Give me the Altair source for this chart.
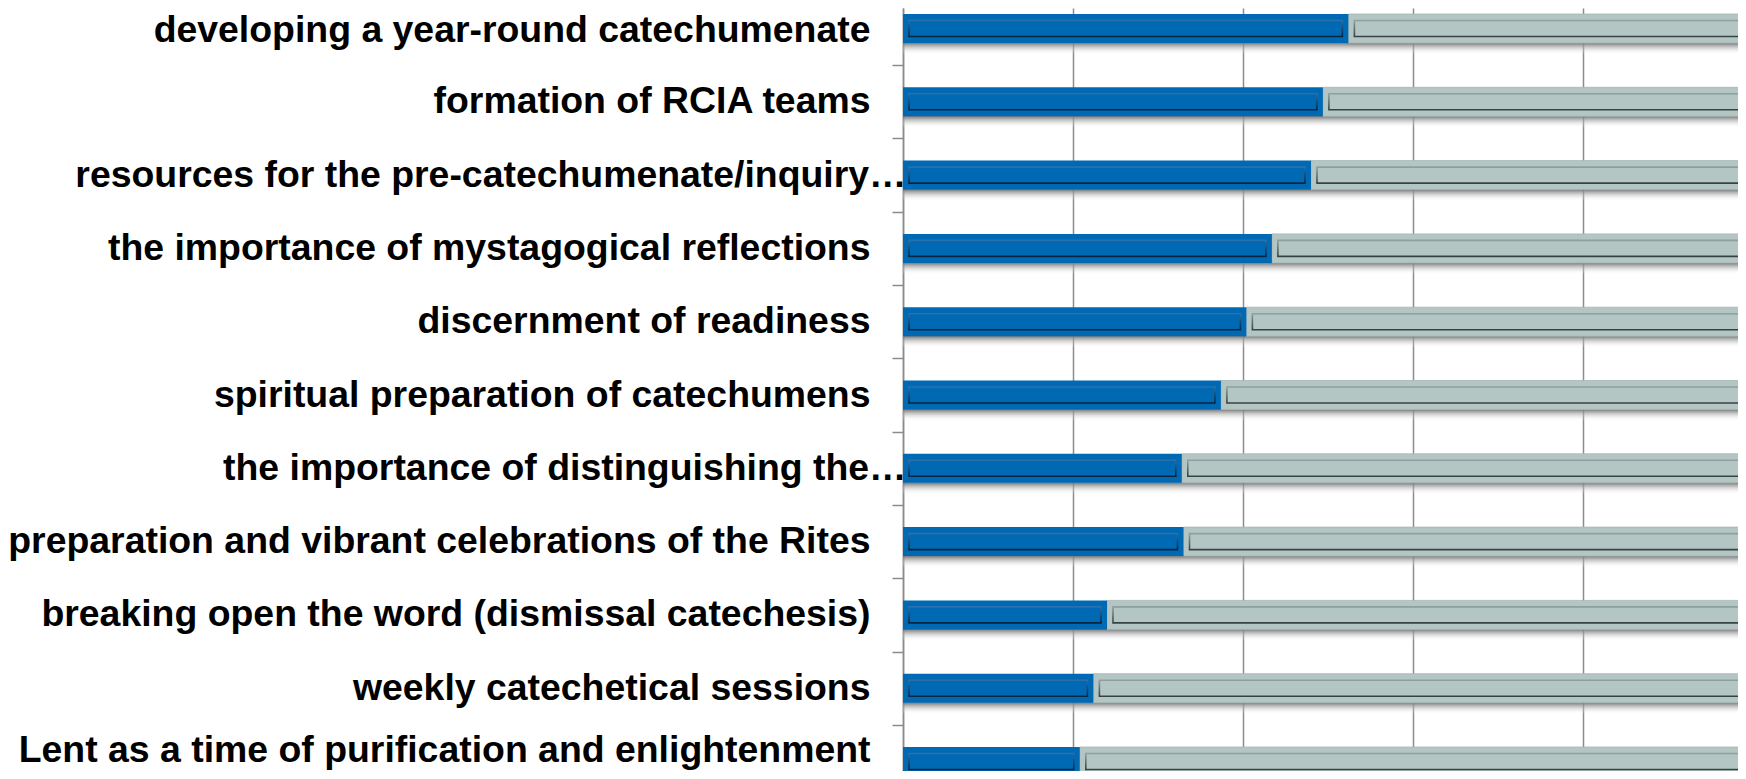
import altair as alt
import pandas as pd

# ---- data ----
labels = [
    "developing a year-round catechumenate",
    "formation of RCIA teams",
    "resources for the pre-catechumenate/inquiry…",
    "the importance of mystagogical reflections",
    "discernment of readiness",
    "spiritual preparation of catechumens",
    "the importance of distinguishing the…",
    "preparation and vibrant celebrations of the Rites",
    "breaking open the word (dismissal catechesis)",
    "weekly catechetical sessions",
    "Lent as a time of purification and enlightenment",
]
blue_pct = [26.2, 24.7, 24.0, 21.7, 20.2, 18.7, 16.4, 16.5, 12.0, 11.2, 10.4]
total_pct = [100] * len(labels)
x_grid_values = [0, 10, 20, 30, 40, 50]

df = pd.DataFrame({
    "row": list(range(len(labels))),
    "label": labels,
    "blue": blue_pct,
    "total": total_pct,
})

BLUE = "#0069B4"
GREY = "#B3C6C4"
AXIS_GREY = "#8c8c8c"

PLOT_W = 835
PLOT_H = 763
PX_PER_UNIT_X = 17.0
PX_PER_ROW = 73.3

xs = alt.Scale(domain=[0, PLOT_W / PX_PER_UNIT_X], nice=False, zero=False, padding=0)
y0 = -20.5 / PX_PER_ROW
ys = alt.Scale(domain=[y0, y0 + PLOT_H / PX_PER_ROW], reverse=True, nice=False,
               zero=False, padding=0)

x_axis = alt.Axis(values=x_grid_values, grid=True, gridColor=AXIS_GREY, gridWidth=1.5,
                  labels=False, ticks=False, domain=False, title="")

label_expr = "[" + ",".join("'" + l + "'" for l in labels) + "][datum.value]"
trunc_idx = [i for i, l in enumerate(labels) if l.endswith("…")]
trunc_test = " || ".join(f"datum.value == {i}" for i in trunc_idx)
last_test = f"datum.value == {len(labels) - 1}"

label_axis = alt.Axis(
    orient="left", values=list(range(len(labels))), labelExpr=label_expr,
    labelFont="Liberation Sans", labelFontSize=37.4, labelFontWeight="bold",
    labelColor="#000000", labelAlign="right", labelBaseline="middle",
    labelPadding={"condition": {"test": trunc_test, "value": -3}, "value": 33},
    labelOffset={"condition": [{"test": last_test, "value": -11},
                               {"test": "datum.value == 0", "value": 2}], "value": 0},
    labelLimit=3000, labelOverlap=False, ticks=False, domain=False, grid=False, title="",
)
tick_axis = alt.Axis(
    orient="left", values=[i + 0.5 for i in range(len(labels) - 1)], labels=False,
    ticks=True, tickSize=11, tickColor=AXIS_GREY, tickWidth=1.5,
    domain=True, domainColor=AXIS_GREY, domainWidth=1.5, grid=False, title="",
)

shadow_grad = alt.LinearGradient(
    gradient="linear", x1=0, y1=0, x2=0, y2=1,
    stops=[alt.GradientStop(color="#6f6f6f", offset=0),
           alt.GradientStop(color="rgba(255,255,255,0)", offset=1)],
)
blue_stroke = alt.LinearGradient(
    gradient="linear", x1=0, y1=0, x2=0, y2=1,
    stops=[alt.GradientStop(color="#2c70ad", offset=0),
           alt.GradientStop(color="#06243f", offset=1)],
)
grey_stroke = alt.LinearGradient(
    gradient="linear", x1=0, y1=0, x2=0, y2=1,
    stops=[alt.GradientStop(color="#8fa19f", offset=0),
           alt.GradientStop(color="#364242", offset=1)],
)

base = alt.Chart(df).transform_calculate(base="0")

shadow = base.mark_bar(size=12, yOffset=20, orient="horizontal", clip=True,
                       color=shadow_grad).encode(
    x=alt.X("base:Q", scale=xs, axis=x_axis),
    x2="total:Q",
    y=alt.Y("row:Q", scale=ys, axis=tick_axis),
)

blue = base.mark_bar(size=29, orient="horizontal", clip=True, color=BLUE).encode(
    x=alt.X("base:Q", scale=xs, axis=x_axis),
    x2="blue:Q",
    y=alt.Y("row:Q", scale=ys, axis=label_axis),
)

grey = base.mark_bar(size=29, orient="horizontal", clip=True, color=GREY,
                     stroke="#a4b6b4", strokeWidth=0.8).encode(
    x=alt.X("blue:Q", scale=xs, axis=x_axis),
    x2="total:Q",
    y=alt.Y("row:Q", scale=ys, axis=None),
)

blue_inner = base.mark_bar(size=16, orient="horizontal", clip=True, fillOpacity=0,
                           stroke=blue_stroke, strokeWidth=1.6,
                           xOffset=6, x2Offset=-6).encode(
    x=alt.X("base:Q", scale=xs, axis=x_axis),
    x2="blue:Q",
    y=alt.Y("row:Q", scale=ys, axis=None),
)

grey_inner = base.mark_bar(size=16, orient="horizontal", clip=True, fillOpacity=0,
                           stroke=grey_stroke, strokeWidth=1.6,
                           xOffset=6, x2Offset=-6).encode(
    x=alt.X("blue:Q", scale=xs, axis=x_axis),
    x2="total:Q",
    y=alt.Y("row:Q", scale=ys, axis=None),
)

chart = alt.layer(shadow, grey, blue, grey_inner, blue_inner).resolve_axis(
    y="independent"
).properties(
    width=PLOT_W, height=PLOT_H,
    autosize=alt.AutoSizeParams(type="none"),
    padding={"left": 895, "top": 0, "right": 0, "bottom": 0},
    background="white",
).configure_view(strokeWidth=0)

chart.save("out.html", embed_options={"renderer": "svg", "actions": False})
